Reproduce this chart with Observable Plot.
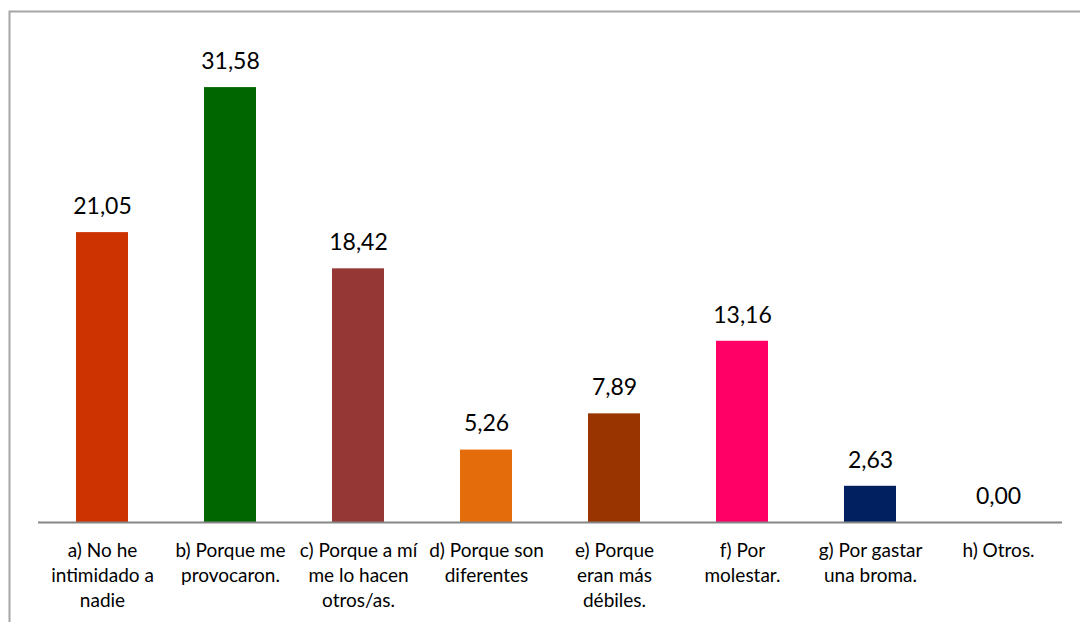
<!DOCTYPE html>
<html>
<head>
<meta charset="utf-8">
<script src="https://cdn.jsdelivr.net/npm/d3@7"></script>
<script src="https://cdn.jsdelivr.net/npm/@observablehq/plot@0.6"></script>
<style>
  html, body { margin: 0; padding: 0; background: #fff; }
  #chart svg { display: block; }
</style>
</head>
<body>
<div id="chart"></div>
<script>
const categories = ["a", "b", "c", "d", "e", "f", "g", "h"];
const labels = [
  "a) No he\nintimidado a\nnadie",
  "b) Porque me\nprovocaron.",
  "c) Porque a mí\nme lo hacen\notros/as.",
  "d) Porque son\ndiferentes",
  "e) Porque\neran más\ndébiles.",
  "f) Por\nmolestar.",
  "g) Por gastar\nuna broma.",
  "h) Otros."
];
const values = [21.05, 31.58, 18.42, 5.26, 7.89, 13.16, 2.63, 0.00];
const colors = ["#CC3300", "#006600", "#953735", "#E46C0A", "#993300", "#FF0066", "#002060", "#7F7F7F"];

const data = categories.map((c, i) => ({cat: c, label: labels[i], value: values[i], color: colors[i]}));
const fmt = v => v.toFixed(2).replace(".", ",");

const chart = Plot.plot({
  width: 1080,
  height: 622,
  marginLeft: 38,
  marginRight: 18,
  marginTop: 40,
  marginBottom: 100,
  style: {fontFamily: "Lato, 'Open Sans', sans-serif", background: "#fff"},
  x: {domain: categories, paddingInner: 0.594, paddingOuter: 0.297, axis: null},
  y: {domain: [0, 35], axis: null},
  marks: [
    Plot.frame({stroke: "#a6a6a6", strokeWidth: 2, insetLeft: -29, insetTop: -29, insetRight: -40, insetBottom: -200}),
    Plot.barY(data, {x: "cat", y: "value", fill: "color"}),
    Plot.ruleY([0], {stroke: "#868686", strokeWidth: 2}),
    Plot.text(data, {x: "cat", y: "value", text: d => fmt(d.value), dy: -26, lineAnchor: "middle", fontSize: 23, fill: "#000"}),
    Plot.text(data, {x: "cat", y: () => 0, text: "label", dy: 17, lineAnchor: "top", lineHeight: 1.316, fontSize: 19, fill: "#000"})
  ]
});
document.getElementById("chart").appendChild(chart);
</script>
</body>
</html>
